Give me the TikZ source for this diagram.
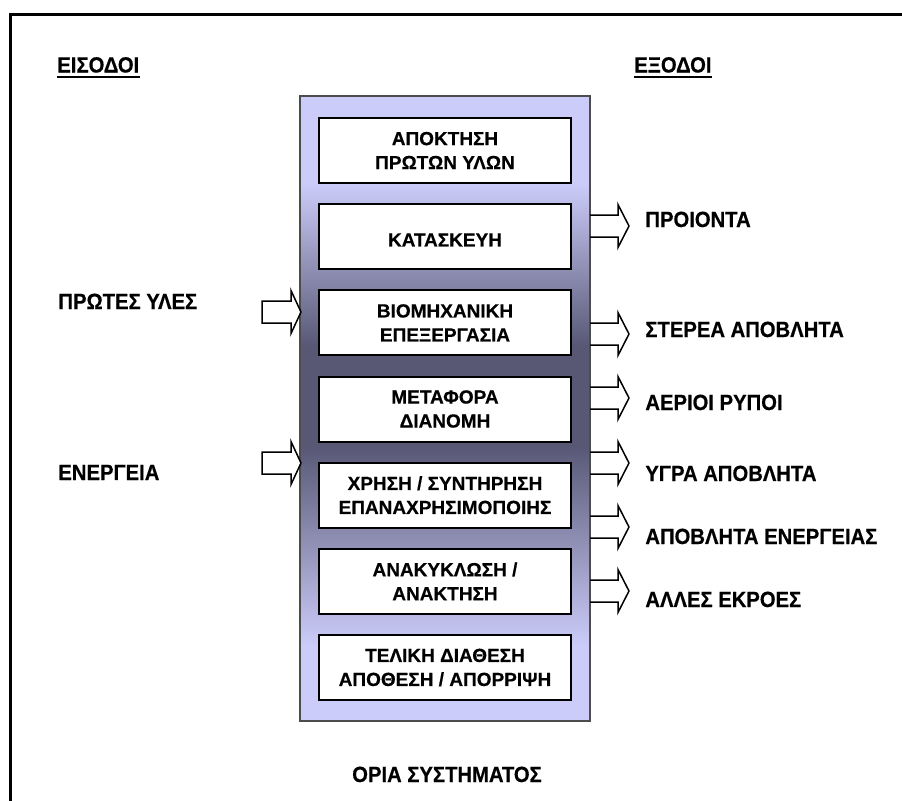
\documentclass[tikz,border=0pt]{standalone}
\usepackage{fontspec}
\setmainfont{Liberation Sans}[BoldFeatures={FakeBold=0.5}]
% slightly narrowed face for the side labels and captions
\newfontfamily\labelfont{Liberation Sans}[FakeStretch=0.92,BoldFeatures={FakeBold=0.5}]
% lavender at both ends of the system column, darkest in the middle
% (a path is mapped onto the 25bp..75bp band of the shading)
\pgfdeclareverticalshading{sysband}{100bp}{%
  rgb(0bp)=(0.80,0.80,0.98); rgb(31bp)=(0.80,0.80,0.98);
  rgb(47bp)=(0.345,0.345,0.46); rgb(55bp)=(0.345,0.345,0.46);
  rgb(68bp)=(0.80,0.80,0.98); rgb(100bp)=(0.80,0.80,0.98)}
\begin{document}
\begin{tikzpicture}[x=0.5pt,y=-0.5pt,
  frame/.style={draw=black,line width=1.5pt},
  sysrect/.style={draw=black!70,line width=0.75pt,shading=sysband,
    minimum width=145pt,minimum height=312.5pt,inner sep=0pt},
  stage/.style={draw=black,line width=1pt,fill=white,
    minimum width=126pt,minimum height=32.5pt,inner sep=0pt,align=center,
    font=\bfseries\fontsize{9.5}{12}\selectfont,
    execute at begin node={\rule{0pt}{9.8pt}}},
  lbl/.style={font=\labelfont\bfseries\fontsize{11}{13}\selectfont,inner sep=0pt,anchor=base west},
  uline/.style={line width=1.1pt},
  blk/.style={draw=black,line width=0.75pt,fill=white},
  outarrow/.pic={\draw[draw=black,line width=0.75pt]
    (0,-11) -- (28,-11) -- (28,-21.5) -- (39,0) -- (28,21.5) -- (28,11) -- (0,11);},
  inarrow/.pic={\draw[blk]
    (0,-11) -- (29,-11) -- (29,-21.5) -- (39,0) -- (29,21.5) -- (29,11) -- (0,11) -- cycle;}
]
\clip (0,0) rectangle (902,800);
\fill[white] (0,0) rectangle (902,800);

% outer frame, running off the page at right and bottom
\draw[frame] (10,14) rectangle (960,860);

% system column
\node[sysrect] (sys) at (445,408.5) {};

% life-cycle stages
\foreach \i/\txt in {1/{ΑΠΟΚΤΗΣΗ\\ΠΡΩΤΩΝ ΥΛΩΝ},
                     2/{ΚΑΤΑΣΚΕΥΗ},
                     3/{ΒΙΟΜΗΧΑΝΙΚΗ\\ΕΠΕΞΕΡΓΑΣΙΑ},
                     4/{ΜΕΤΑΦΟΡΑ\\ΔΙΑΝΟΜΗ},
                     5/{ΧΡΗΣΗ / ΣΥΝΤΗΡΗΣΗ\\ΕΠΑΝΑΧΡΗΣΙΜΟΠΟΙΗΣ},
                     6/{ΑΝΑΚΥΚΛΩΣΗ /\\ΑΝΑΚΤΗΣΗ},
                     7/{ΤΕΛΙΚΗ ΔΙΑΘΕΣΗ\\ΑΠΟΘΕΣΗ / ΑΠΟΡΡΙΨΗ}}
  \node[stage] (s\i) at (445,{150.5+86.17*(\i-1)}) {\txt};

% headings
\node[lbl] (hin) at (57,72.5) {ΕΙΣΟΔΟΙ};
\node[lbl] (hout) at (634,72.5) {ΕΞΟΔΟΙ};
\draw[uline] ([yshift=-2.3pt]hin.base west) -- ([yshift=-2.3pt]hin.base east);
\draw[uline] ([yshift=-2.3pt]hout.base west) -- ([yshift=-2.3pt]hout.base east);

% inputs
\node[lbl] (raw) at (58,309) {ΠΡΩΤΕΣ ΥΛΕΣ};
\node[lbl] (energy) at (58,480) {ΕΝΕΡΓΕΙΑ};
\pic at (262,312) {inarrow};
\pic at (262,463) {inarrow};

% outputs
\foreach \y in {226,334,398,463,527,591}
  \pic at (590,\y) {outarrow};
\node[lbl] (o1) at (645,227) {ΠΡΟΙΟΝΤΑ};
\node[lbl] (o2) at (645,337) {ΣΤΕΡΕΑ ΑΠΟΒΛΗΤΑ};
\node[lbl] (o3) at (645,410) {ΑΕΡΙΟΙ ΡΥΠΟΙ};
\node[lbl] (o4) at (645,481) {ΥΓΡΑ ΑΠΟΒΛΗΤΑ};
\node[lbl] (o5) at (645,544) {ΑΠΟΒΛΗΤΑ ΕΝΕΡΓΕΙΑΣ};
\node[lbl] (o6) at (645,607) {ΑΛΛΕΣ ΕΚΡΟΕΣ};

% system boundary caption
\node[lbl,anchor=base] (bound) at (447,782) {ΟΡΙΑ ΣΥΣΤΗΜΑΤΟΣ};
\end{tikzpicture}
\end{document}
